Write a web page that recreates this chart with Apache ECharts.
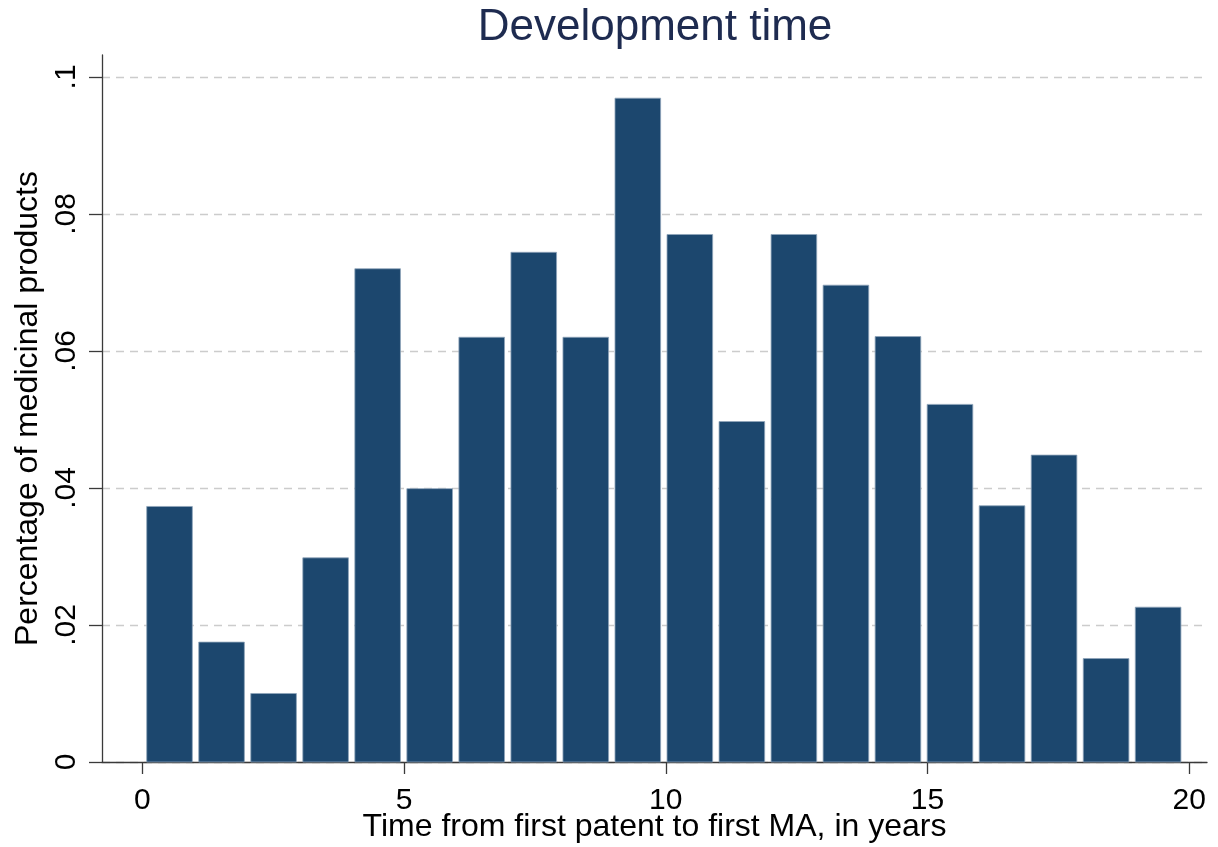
<!DOCTYPE html>
<html>
<head>
<meta charset="utf-8">
<script src="https://cdn.jsdelivr.net/npm/echarts@6/dist/echarts.min.js"></script>
<style>
html,body{margin:0;padding:0;background:#fff;}
#chart{width:1218px;height:847px;}
</style>
</head>
<body>
<div id="chart"></div>
<script>
// ---- data ----
const chartTitle = 'Development time';
const xAxisTitle = 'Time from first patent to first MA, in years';
const yAxisTitle = 'Percentage of medicinal products';
const binStart = 0.023;          // lower edge of the first bin (years)
const binWidth = 0.994;          // width of each bin (years)
const binValues = [0.0373, 0.0175, 0.0100, 0.0298, 0.0720, 0.0399, 0.0620, 0.0744, 0.0620, 0.0969,
                   0.0770, 0.0497, 0.0770, 0.0696, 0.0621, 0.0522, 0.0374, 0.0448, 0.0151, 0.0226];
const xTicks = [0, 5, 10, 15, 20];
const xTickLabels = ['0', '5', '10', '15', '20'];
const yTicks = [0, 0.02, 0.04, 0.06, 0.08, 0.1];
const yTickLabels = ['0', '.02', '.04', '.06', '.08', '.1'];

// ---- build ----
const seriesData = binValues.map((v, i) => [binStart + i * binWidth, binStart + (i + 1) * binWidth, v]);
const FONT = '"Liberation Sans", Arial, Helvetica, sans-serif';
const barFrac = 0.877;

const chart = echarts.init(document.getElementById('chart'), null, {renderer: 'canvas'});
chart.setOption({
  animation: false,
  backgroundColor: '#ffffff',
  title: {
    text: chartTitle,
    left: 650,
    textAlign: 'center',
    top: 1,
    textStyle: {fontFamily: FONT, fontSize: 44, fontWeight: 'normal', color: '#1e2b50'}
  },
  grid: {left: 102, right: 11, top: 55, bottom: 85, containLabel: false, outerBoundsMode: 'none'},
  xAxis: {
    type: 'value',
    min: -0.77,
    max: 20.34,
    name: xAxisTitle,
    nameLocation: 'middle',
    nameGap: 49,
    nameMoveOverlap: false,
    nameTextStyle: {fontFamily: FONT, fontSize: 32, color: '#000'},
    axisLine: {show: true, onZero: false, lineStyle: {color: '#3a3a3a', width: 1.3}},
    axisTick: {show: true, inside: false, length: 12, customValues: xTicks, lineStyle: {color: '#3a3a3a', width: 1.3}},
    axisLabel: {
      customValues: xTicks,
      margin: 24,
      fontFamily: FONT, fontSize: 30, color: '#000',
      formatter: v => { const i = xTicks.indexOf(v); return i >= 0 ? xTickLabels[i] : ''; }
    },
    splitLine: {show: false}
  },
  yAxis: {
    type: 'value',
    min: 0,
    max: 0.1032,
    name: yAxisTitle,
    nameLocation: 'middle',
    nameRotate: 90,
    nameGap: 56,
    nameTextStyle: {fontFamily: FONT, fontSize: 32, color: '#000'},
    axisLine: {show: true, onZero: false, lineStyle: {color: '#3a3a3a', width: 1.3}},
    axisTick: {show: true, inside: false, length: 13, customValues: yTicks, lineStyle: {color: '#3a3a3a', width: 1.3}},
    axisLabel: {
      customValues: yTicks,
      rotate: 90,
      margin: 20,
      fontFamily: FONT, fontSize: 30, color: '#000',
      formatter: v => {
        let best = -1, bd = 1e9;
        yTicks.forEach((t, i) => { const d = Math.abs(t - v); if (d < bd) { bd = d; best = i; } });
        return bd < 1e-6 ? yTickLabels[best] : '';
      }
    },
    splitLine: {show: true, lineStyle: {color: '#cccccc', width: 1.3, type: [8, 6]}}
  },
  series: [{
    type: 'custom',
    data: seriesData,
    encode: {x: [0, 1], y: 2},
    renderItem: (params, api) => {
      const lo = api.value(0), hi = api.value(1), v = api.value(2);
      const mid = (lo + hi) / 2, half = (hi - lo) * barFrac / 2;
      const pTop = api.coord([mid - half, v]);
      const pBot = api.coord([mid + half, 0]);
      return {
        type: 'rect',
        shape: {x: pTop[0], y: pTop[1], width: pBot[0] - pTop[0], height: pBot[1] - pTop[1]},
        style: {fill: '#1c476e', stroke: '#8fa4ba', lineWidth: 0.8}
      };
    }
  }]
});
</script>
</body>
</html>
